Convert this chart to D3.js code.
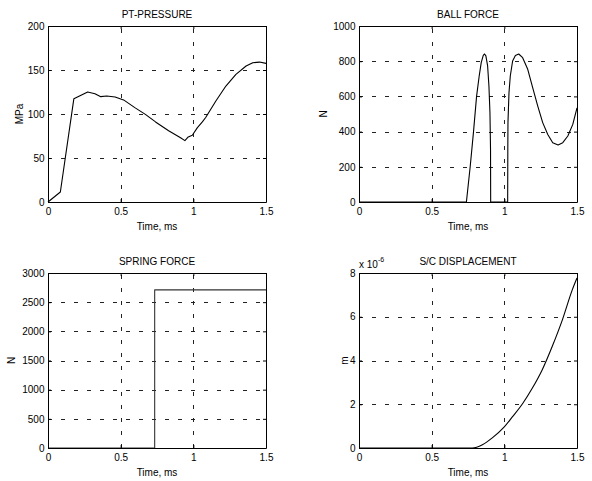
<!DOCTYPE html>
<html>
<head>
<meta charset="utf-8">
<script src="https://cdn.jsdelivr.net/npm/d3@7"></script>
<style>
  html, body { margin: 0; padding: 0; background: #fff; }
  svg text { font-family: "Liberation Sans", Arial, Helvetica, sans-serif; font-size: 10px; fill: #000; }
</style>
</head>
<body>
<svg id="chart" width="592" height="481"></svg>
<script>
// ---------- data ----------
const timeTicks = [0, 0.5, 1, 1.5];

const ptTime  = [0, 0.085, 0.178, 0.273, 0.323, 0.363, 0.404, 0.462, 0.52, 0.6, 0.67, 0.74, 0.83, 0.912, 0.942, 0.965, 0.993, 1.028, 1.062, 1.085, 1.155, 1.224, 1.293, 1.363, 1.409, 1.455, 1.5];
const ptValue = [0, 11.4, 117.4, 125, 123, 119.7, 120.5, 119.3, 116, 107, 99.6, 91, 81, 73, 69.7, 73.9, 75.8, 84.5, 91, 96, 114.8, 131.8, 145, 154.5, 158.3, 159, 157.5];
const ptTicks = [0, 50, 100, 150, 200];

const ballTime  = [0, 0.739, 0.765, 0.788, 0.809, 0.827, 0.841, 0.855, 0.864, 0.873, 0.885, 0.894, 0.901, 0.905, 0.906, 1.023, 1.024, 1.025, 1.032, 1.041, 1.057, 1.076, 1.099, 1.126, 1.161, 1.195, 1.23, 1.264, 1.299, 1.333, 1.37, 1.402, 1.437, 1.471, 1.5];
const ballForce = [0, 0, 200, 400, 600, 716, 792, 833, 841, 830, 773, 659, 508, 300, 0, 0, 300, 451, 621, 716, 801, 833, 841, 820, 754, 650, 545, 451, 384, 337, 324, 337, 375, 441, 535];
const ballTicks = [0, 200, 400, 600, 800, 1000];

const springTime  = [0, 0.734, 0.734, 1.5];
const springForce = [0, 0, 2710, 2710];
const springTicks = [0, 500, 1000, 1500, 2000, 2500, 3000];

const dispTime  = [0, 0.78, 0.849, 0.917, 0.998, 1.055, 1.124, 1.193, 1.261, 1.33, 1.4, 1.468, 1.5];
const dispValue = [0, 0, 0.15, 0.46, 0.95, 1.42, 2.01, 2.74, 3.58, 4.65, 5.87, 7.24, 7.77]; // x 10^-6 m
const dispTicks = [0, 2, 4, 6, 8];

// ---------- layout ----------
const svg = d3.select("#chart");
const panels = [
  { title: "PT-PRESSURE", ylabel: "MPa", x0: 48, x1: 266, top: 26, bottom: 202, xs: ptTime, ys: ptValue, yTicks: ptTicks, ylabelX: 19 },
  { title: "BALL FORCE", ylabel: "N", x0: 359, x1: 577, top: 26, bottom: 202, xs: ballTime, ys: ballForce, yTicks: ballTicks, ylabelX: 323 },
  { title: "SPRING FORCE", ylabel: "N", x0: 48, x1: 266, top: 273, bottom: 448, xs: springTime, ys: springForce, yTicks: springTicks, ylabelX: 11, stroke: "#333" },
  { title: "S/C DISPLACEMENT", ylabel: "m", x0: 359, x1: 577, top: 273, bottom: 448, xs: dispTime, ys: dispValue, yTicks: dispTicks, ylabelX: 344, curve: d3.curveMonotoneX, mult: true }
];

panels.forEach(p => {
  const g = svg.append("g");
  const x = d3.scaleLinear().domain([0, 1.5]).range([p.x0, p.x1]);
  const y = d3.scaleLinear().domain([p.yTicks[0], p.yTicks[p.yTicks.length - 1]]).range([p.bottom, p.top]);

  // grid
  const grid = g.append("g").attr("stroke", "#222").attr("stroke-width", 1).attr("stroke-dasharray", "4,9");
  timeTicks.slice(1, -1).forEach(t => {
    grid.append("line").attr("x1", Math.round(x(t)) + 0.5).attr("x2", Math.round(x(t)) + 0.5)
      .attr("y1", p.bottom).attr("y2", p.top);
  });
  p.yTicks.slice(1, -1).forEach(v => {
    grid.append("line").attr("y1", Math.round(y(v)) + 0.5).attr("y2", Math.round(y(v)) + 0.5)
      .attr("x1", p.x0).attr("x2", p.x1);
  });

  // data line
  const line = d3.line().x((d, i) => x(p.xs[i])).y((d, i) => y(p.ys[i])).curve(p.curve || d3.curveLinear);
  g.append("path").datum(p.xs).attr("d", line).attr("fill", "none")
    .attr("stroke", p.stroke || "#000").attr("stroke-width", 1.1).attr("stroke-linejoin", "round");

  // axes (MATLAB style, inward ticks on all sides)
  const axB = d3.axisBottom(x).tickValues(timeTicks).tickSizeInner(-3).tickSizeOuter(0).tickPadding(6).tickFormat(d3.format("~g"));
  const axT = d3.axisTop(x).tickValues(timeTicks).tickSizeInner(-3).tickSizeOuter(0).tickFormat("");
  const axL = d3.axisLeft(y).tickValues(p.yTicks).tickSizeInner(-3).tickSizeOuter(0).tickPadding(3.5).tickFormat(d3.format("~g"));
  const axR = d3.axisRight(y).tickValues(p.yTicks).tickSizeInner(-3).tickSizeOuter(0).tickFormat("");
  [[axB, `translate(0,${p.bottom})`], [axT, `translate(0,${p.top})`], [axL, `translate(${p.x0},0)`], [axR, `translate(${p.x1},0)`]].forEach(([ax, tr]) => {
    const a = g.append("g").attr("transform", tr).call(ax);
    a.selectAll("text").attr("font-size", null).attr("font-family", null).attr("fill", "#000");
    a.selectAll("path,line").attr("stroke", "#000");
    a.attr("font-size", null).attr("font-family", null);
  });

  // titles and labels
  g.append("text").attr("x", (p.x0 + p.x1) / 2).attr("y", p.top - 8).attr("text-anchor", "middle").text(p.title);
  g.append("text").attr("x", (p.x0 + p.x1) / 2).attr("y", p.bottom + 28).attr("text-anchor", "middle").text("Time, ms");
  g.append("text").attr("transform", `translate(${p.ylabelX},${(p.top + p.bottom) / 2}) rotate(-90)`)
    .attr("text-anchor", "middle").attr("dy", "0.35em").text(p.ylabel);

  if (p.mult) {
    const t = g.append("text").attr("x", p.x0).attr("y", p.top - 5);
    t.append("tspan").text("x 10");
    t.append("tspan").attr("dy", -6).attr("font-size", "7px").text("-6");
  }
});
</script>
</body>
</html>
